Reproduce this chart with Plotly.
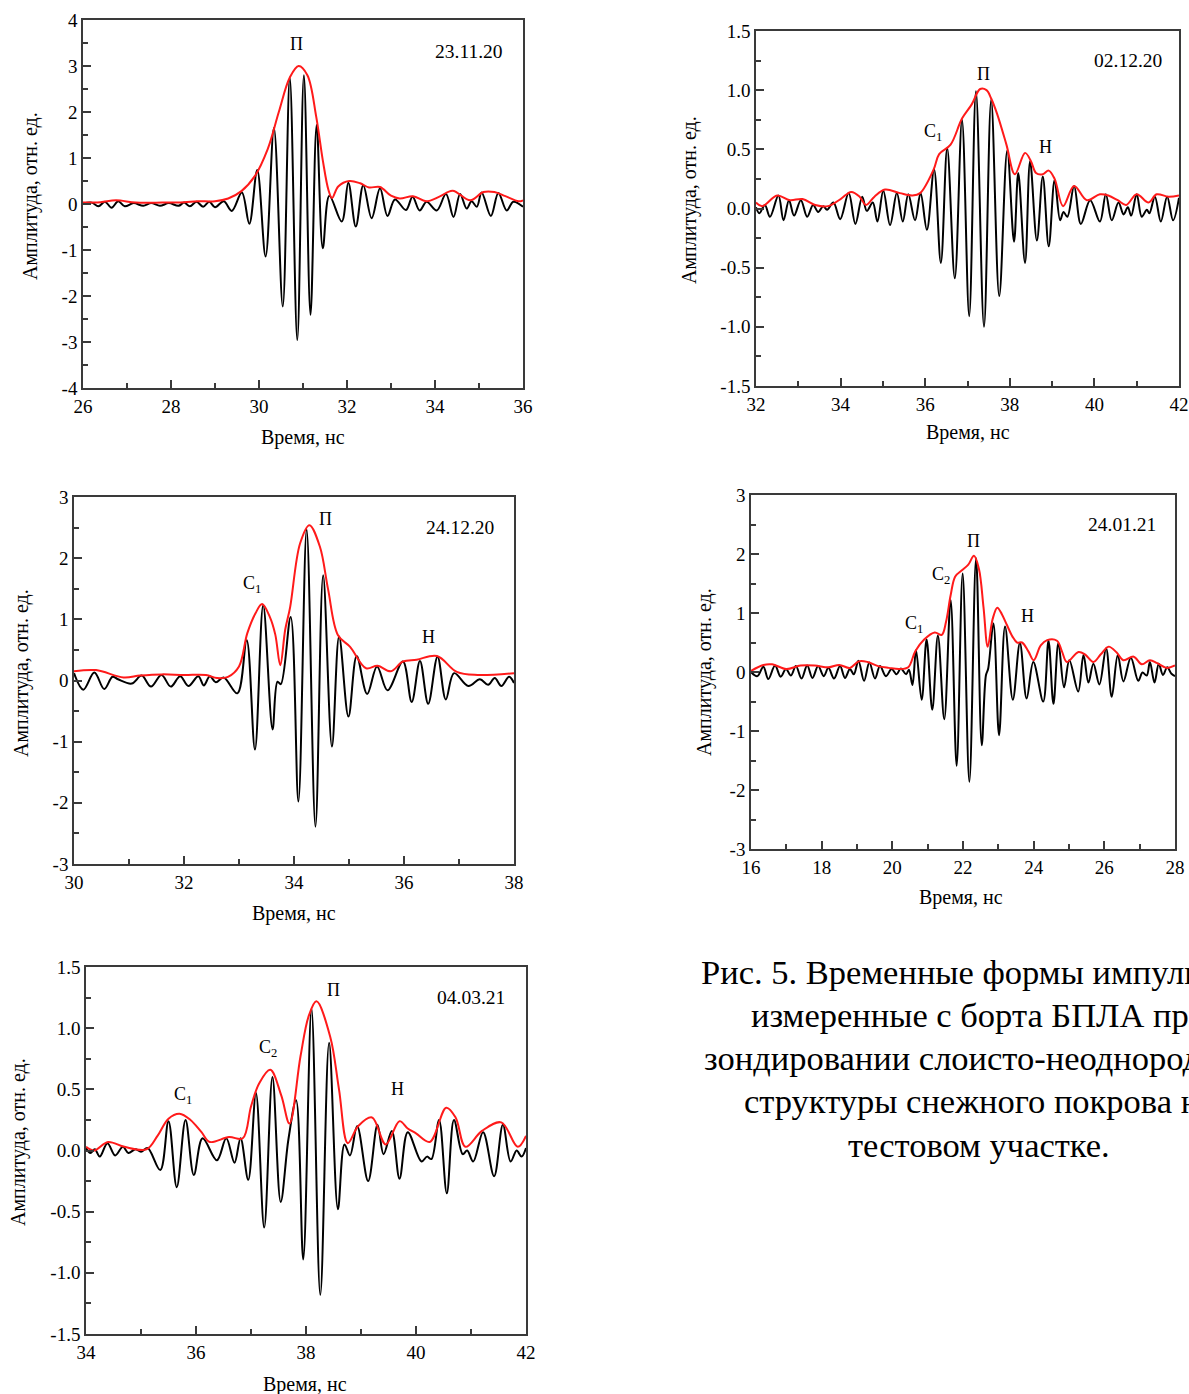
import plotly.graph_objects as go

W, H = 1189, 1394
FONT = "Liberation Serif"

# ---------------- Panel 1 : 23.11.20 ----------------
p1_sig_t = [26.00, 26.20, 26.35, 26.50, 26.65, 26.80, 26.95, 27.15, 27.37, 27.55, 27.75, 27.95,
            28.17, 28.30, 28.43, 28.58, 28.73, 28.87, 29.00, 29.20, 29.38, 29.61, 29.78, 29.96,
            30.15, 30.34, 30.54, 30.70, 30.87, 31.02, 31.17, 31.31, 31.45, 31.60, 31.88, 32.03,
            32.20, 32.37, 32.56, 32.75, 32.92, 33.09, 33.34, 33.49, 33.65, 33.81, 34.04, 34.25,
            34.42, 34.57, 34.72, 34.83, 34.95, 35.06, 35.27, 35.44, 35.63, 35.78, 36.00]
p1_sig_a = [0.01, 0.03, -0.05, 0.05, -0.08, 0.06, -0.05, 0.02, -0.04, 0.02, -0.04, 0.02,
            -0.04, 0.03, -0.05, 0.05, -0.06, 0.05, -0.07, 0.06, -0.15, 0.25, -0.43, 0.74,
            -1.14, 1.65, -2.23, 2.75, -2.96, 2.80, -2.41, 1.72, -0.96, 0.18, -0.38, 0.46,
            -0.49, 0.41, -0.31, 0.34, -0.26, 0.10, -0.13, 0.16, -0.14, 0.05, -0.14, 0.22,
            -0.28, 0.22, -0.10, 0.06, -0.06, 0.25, -0.26, 0.24, -0.14, 0.05, -0.06]
p1_env_t = [26.0, 26.4, 26.75, 27.2, 27.8, 28.3, 28.6, 29.0, 29.3, 29.6, 29.9, 30.2, 30.45, 30.7,
            30.9, 31.1, 31.3, 31.45, 31.58, 31.66, 31.8, 32.05, 32.3, 32.5, 32.75, 33.0, 33.2,
            33.5, 33.8, 34.1, 34.4, 34.8, 35.1, 35.35, 35.6, 35.9, 36.0]
p1_env_a = [0.03, 0.04, 0.08, 0.03, 0.03, 0.04, 0.06, 0.06, 0.12, 0.28, 0.6, 1.2, 2.0, 2.75,
            3.0, 2.8, 1.9, 0.95, 0.3, 0.13, 0.38, 0.5, 0.45, 0.36, 0.37, 0.18, 0.12,
            0.17, 0.06, 0.16, 0.29, 0.08, 0.26, 0.26, 0.17, 0.06, 0.08]

# ---------------- Panel 2 : 02.12.20 ----------------
p2_sig_t = [32.00, 32.08, 32.21, 32.33, 32.53, 32.65, 32.78, 32.90, 33.06, 33.21, 33.35, 33.47,
            33.59, 33.68, 33.83, 33.99, 34.19, 34.35, 34.51, 34.62, 34.76, 34.87, 35.01, 35.17,
            35.33, 35.47, 35.60, 35.76, 35.89, 36.04, 36.21, 36.37, 36.52, 36.70, 36.87, 37.04,
            37.20, 37.39, 37.56, 37.75, 37.94, 38.10, 38.20, 38.36, 38.48, 38.64, 38.78, 38.92,
            39.06, 39.19, 39.27, 39.36, 39.52, 39.68, 39.90, 40.13, 40.27, 40.41, 40.57, 40.69,
            40.79, 40.87, 41.00, 41.12, 41.24, 41.30, 41.43, 41.57, 41.72, 41.86, 42.00]
p2_sig_a = [0.01, -0.04, 0.03, -0.07, 0.11, -0.10, 0.07, -0.06, 0.07, -0.07, 0.03, -0.03,
            0.02, -0.01, 0.05, -0.09, 0.13, -0.13, 0.10, -0.02, 0.05, -0.11, 0.15, -0.14,
            0.13, -0.11, 0.12, -0.10, 0.13, -0.18, 0.33, -0.46, 0.51, -0.59, 0.75, -0.91,
            0.99, -1.00, 0.92, -0.74, 0.49, -0.28, 0.30, -0.46, 0.40, -0.27, 0.27, -0.32,
            0.24, -0.10, -0.03, -0.07, 0.19, -0.13, 0.07, -0.11, 0.12, -0.10, 0.05, -0.05,
            0.01, -0.06, 0.12, -0.07, -0.01, -0.04, 0.10, -0.11, 0.10, -0.10, 0.09]
p2_env_t = [32.0, 32.15, 32.5, 32.8, 33.1, 33.4, 33.7, 34.0, 34.25, 34.45, 34.6, 34.8, 35.05,
            35.4, 35.7, 35.88, 36.2, 36.33, 36.6, 36.87, 37.1, 37.3, 37.45, 37.56, 37.7, 37.92,
            38.12, 38.36, 38.5, 38.62, 38.78, 38.92, 39.06, 39.26, 39.52, 39.82, 40.13, 40.33,
            40.55, 40.75, 41.0, 41.28, 41.47, 41.75, 42.0]
p2_env_a = [0.05, 0.02, 0.11, 0.07, 0.08, 0.03, 0.02, 0.08, 0.14, 0.10, 0.03, 0.10, 0.16,
            0.13, 0.11, 0.13, 0.33, 0.46, 0.54, 0.76, 0.88, 1.01, 1.0, 0.93, 0.8, 0.54,
            0.29, 0.47, 0.40, 0.30, 0.29, 0.32, 0.25, 0.02, 0.19, 0.07, 0.12, 0.11,
            0.07, 0.03, 0.12, 0.05, 0.12, 0.10, 0.11]

# ---------------- Panel 3 : 24.12.20 ----------------
p3_sig_t = [30.00, 30.17, 30.37, 30.55, 30.70, 30.80, 31.05, 31.23, 31.40, 31.59, 31.76, 31.93,
            32.08, 32.26, 32.36, 32.47, 32.58, 32.72, 32.97, 33.14, 33.29, 33.44, 33.61, 33.70,
            33.76, 33.94, 34.08, 34.23, 34.39, 34.53, 34.69, 34.82, 34.99, 35.14, 35.33, 35.51,
            35.70, 35.98, 36.14, 36.29, 36.44, 36.61, 36.76, 36.91, 37.17, 37.38, 37.53, 37.65,
            37.77, 37.91, 38.00]
p3_sig_a = [0.12, -0.15, 0.13, -0.14, 0.06, 0.02, -0.05, 0.08, -0.10, 0.09, -0.10, 0.07,
            -0.09, 0.07, -0.08, 0.07, -0.03, 0.05, -0.21, 0.66, -1.13, 1.23, -0.80, -0.02,
            -0.06, 1.04, -1.98, 2.47, -2.39, 1.72, -1.08, 0.72, -0.59, 0.40, -0.22, 0.23,
            -0.16, 0.31, -0.35, 0.32, -0.38, 0.39, -0.31, 0.12, -0.09, 0.02, -0.07, 0.04,
            -0.09, 0.06, -0.04]
p3_env_t = [30.0, 30.4, 30.9, 31.2, 31.6, 32.0, 32.4, 32.6, 32.8, 33.0, 33.15, 33.3, 33.42,
            33.56, 33.66, 33.75, 33.84, 33.93, 34.11, 34.28, 34.47, 34.62, 34.80, 35.02, 35.31,
            35.52, 35.76, 35.98, 36.23, 36.60, 36.96, 37.34, 38.0]
p3_env_a = [0.15, 0.17, 0.05, 0.08, 0.10, 0.09, 0.09, 0.04, 0.06, 0.23, 0.77, 1.1, 1.25,
            1.04, 0.75, 0.25, 0.83, 1.2, 2.24, 2.54, 2.19, 1.49, 0.74, 0.55, 0.2,
            0.24, 0.15, 0.31, 0.34, 0.40, 0.14, 0.09, 0.12]

# ---------------- Panel 4 : 24.01.21 ----------------
p4_sig_t = [16.00, 16.18, 16.35, 16.49, 16.68, 16.84, 16.99, 17.13, 17.27, 17.43, 17.59, 17.74,
            17.90, 18.06, 18.19, 18.35, 18.52, 18.66, 18.80, 18.91, 19.04, 19.20, 19.35, 19.51,
            19.65, 19.82, 19.98, 20.12, 20.24, 20.39, 20.47, 20.57, 20.67, 20.83, 20.97, 21.13,
            21.29, 21.47, 21.65, 21.82, 21.99, 22.18, 22.37, 22.53, 22.65, 22.71, 22.86, 23.02,
            23.19, 23.41, 23.61, 23.80, 23.99, 24.27, 24.42, 24.56, 24.70, 24.86, 25.01, 25.26,
            25.41, 25.55, 25.69, 25.86, 26.05, 26.21, 26.38, 26.54, 26.75, 26.96, 27.08, 27.20,
            27.29, 27.42, 27.54, 27.66, 27.78, 27.90, 28.00]
p4_sig_a = [0.00, -0.07, 0.09, -0.12, 0.11, -0.08, 0.05, -0.06, 0.10, -0.11, 0.11, -0.10,
            0.10, -0.07, 0.07, -0.11, 0.10, -0.10, 0.05, -0.04, 0.19, -0.15, 0.16, -0.11,
            0.10, -0.07, 0.05, -0.04, 0.06, -0.04, 0.04, -0.22, 0.37, -0.47, 0.55, -0.64,
            0.62, -0.80, 1.22, -1.59, 1.67, -1.86, 1.93, -1.24, -0.05, 0.05, 0.82, -1.07,
            0.77, -0.47, 0.49, -0.45, 0.17, -0.50, 0.53, -0.54, 0.49, -0.26, 0.20, -0.33,
            0.29, -0.18, 0.14, -0.21, 0.40, -0.42, 0.29, -0.16, 0.24, -0.15, -0.01, -0.06,
            0.17, -0.18, 0.14, -0.05, 0.08, -0.03, -0.07]
p4_env_t = [16.0, 16.35, 16.6, 17.0, 17.4, 17.8, 18.2, 18.5, 18.8, 19.05, 19.3, 19.6, 19.9,
            20.2, 20.45, 20.65, 20.9, 21.2, 21.4, 21.52, 21.65, 21.78, 21.96, 22.15, 22.31,
            22.45, 22.58, 22.70, 22.84, 22.97, 23.1, 23.24, 23.4, 23.53, 23.67, 23.85, 24.0,
            24.2, 24.38, 24.66, 24.8, 24.94, 25.27, 25.45, 25.69, 25.9, 26.12, 26.35, 26.54,
            26.83, 27.06, 27.29, 27.5, 27.76, 28.0]
p4_env_a = [0.02, 0.12, 0.13, 0.05, 0.11, 0.11, 0.08, 0.12, 0.07, 0.18, 0.17, 0.10, 0.07,
            0.05, 0.08, 0.35, 0.55, 0.67, 0.63, 0.85, 1.30, 1.62, 1.72, 1.82, 1.97,
            1.75, 1.1, 0.43, 0.9, 1.09, 0.98, 0.8, 0.6, 0.5, 0.5, 0.35, 0.2,
            0.45, 0.54, 0.53, 0.35, 0.17, 0.34, 0.3, 0.17, 0.3, 0.43, 0.33, 0.20,
            0.26, 0.13, 0.2, 0.15, 0.07, 0.11]

# ---------------- Panel 5 : 04.03.21 ----------------
p5_sig_t = [34.00, 34.08, 34.16, 34.25, 34.39, 34.53, 34.67, 34.77, 34.90, 35.00, 35.12, 35.35,
            35.50, 35.65, 35.81, 35.96, 36.12, 36.38, 36.55, 36.70, 36.81, 36.95, 37.09, 37.24,
            37.39, 37.54, 37.68, 37.82, 37.95, 38.10, 38.26, 38.42, 38.58, 38.70, 38.80, 38.93,
            39.13, 39.30, 39.41, 39.56, 39.70, 39.85, 40.10, 40.20, 40.28, 40.42, 40.56, 40.69,
            40.85, 40.93, 41.04, 41.22, 41.42, 41.58, 41.72, 41.83, 41.92, 42.00]
p5_sig_a = [0.02, -0.02, 0.01, -0.05, 0.06, -0.04, 0.03, -0.02, 0.01, -0.01, 0.02, -0.16,
            0.24, -0.30, 0.25, -0.20, 0.10, -0.08, 0.10, -0.10, 0.10, -0.24, 0.47, -0.63,
            0.60, -0.42, 0.09, 0.41, -0.89, 1.16, -1.18, 0.88, -0.48, 0.05, -0.04, 0.20,
            -0.25, 0.21, -0.03, 0.16, -0.23, 0.15, -0.09, -0.05, -0.07, 0.25, -0.35, 0.25,
            -0.03, 0.00, -0.09, 0.15, -0.21, 0.21, -0.09, 0.00, -0.05, 0.02]
p5_env_t = [34.0, 34.15, 34.4, 34.7, 35.1, 35.3, 35.5, 35.7, 35.9, 36.1, 36.25, 36.6, 36.85,
            37.0, 37.15, 37.35, 37.55, 37.7, 37.9, 38.05, 38.19, 38.44, 38.6, 38.76, 38.95,
            39.2, 39.45, 39.7, 39.85, 40.0, 40.25, 40.55, 40.72, 40.9, 41.2, 41.55, 41.85, 42.0]
p5_env_a = [0.03, 0.0, 0.07, 0.03, 0.01, 0.12, 0.26, 0.30, 0.25, 0.15, 0.07, 0.11, 0.10,
            0.36, 0.55, 0.66, 0.45, 0.22, 0.77, 1.1, 1.22, 0.93, 0.5, 0.06, 0.2,
            0.27, 0.05, 0.24, 0.18, 0.14, 0.07, 0.35, 0.27, 0.03, 0.16, 0.23, 0.03, 0.12]

# ---------------- Tick labels ----------------
p1_xticks = [26, 28, 30, 32, 34, 36]
p1_yticks = [-4, -3, -2, -1, 0, 1, 2, 3, 4]
p1_ylabels = ["-4", "-3", "-2", "-1", "0", "1", "2", "3", "4"]
p2_xticks = [32, 34, 36, 38, 40, 42]
p2_yticks = [-1.5, -1.0, -0.5, 0.0, 0.5, 1.0, 1.5]
p2_ylabels = ["-1.5", "-1.0", "-0.5", "0.0", "0.5", "1.0", "1.5"]
p3_xticks = [30, 32, 34, 36, 38]
p3_yticks = [-3, -2, -1, 0, 1, 2, 3]
p3_ylabels = ["-3", "-2", "-1", "0", "1", "2", "3"]
p4_xticks = [16, 18, 20, 22, 24, 26, 28]
p4_yticks = [-3, -2, -1, 0, 1, 2, 3]
p4_ylabels = ["-3", "-2", "-1", "0", "1", "2", "3"]
p5_xticks = [34, 36, 38, 40, 42]
p5_yticks = [-1.5, -1.0, -0.5, 0.0, 0.5, 1.0, 1.5]
p5_ylabels = ["-1.5", "-1.0", "-0.5", "0.0", "0.5", "1.0", "1.5"]

dates = ["23.11.20", "02.12.20", "24.12.20", "24.01.21", "04.03.21"]
x_title = "Время, нс"
y_title = "Амплитуда, отн. ед."
caption_lines = ["Рис. 5. Временные формы импульсов,",
                 "измеренные с борта БПЛА при",
                 "зондировании слоисто-неоднородной",
                 "структуры снежного покрова на",
                 "тестовом участке."]

# ---------------- Layout geometry (pixels) ----------------
panels = [
    dict(sig=(p1_sig_t, p1_sig_a), env=(p1_env_t, p1_env_a), px=(83, 523), py=(20, 388),
         xr=(26, 36), yr=(-4, 4), xt=p1_xticks, yt=p1_yticks, yl=p1_ylabels, xm=1, ym=0.5,
         ytitle=(30, 196), xtitle=(303, 437), date=(469, 51),
         labels=[("П", 296, 44)]),
    dict(sig=(p2_sig_t, p2_sig_a), env=(p2_env_t, p2_env_a), px=(756, 1179), py=(31, 386),
         xr=(32, 42), yr=(-1.5, 1.5), xt=p2_xticks, yt=p2_yticks, yl=p2_ylabels, xm=1, ym=0.25,
         ytitle=(690, 200), xtitle=(968, 433), date=(1128, 60),
         labels=[("С<sub>1</sub>", 933, 132), ("П", 983, 74), ("Н", 1045, 147)]),
    dict(sig=(p3_sig_t, p3_sig_a), env=(p3_env_t, p3_env_a), px=(74, 514), py=(497, 864),
         xr=(30, 38), yr=(-3, 3), xt=p3_xticks, yt=p3_yticks, yl=p3_ylabels, xm=1, ym=0.5,
         ytitle=(21, 673), xtitle=(294, 913), date=(460, 527),
         labels=[("С<sub>1</sub>", 252, 584), ("П", 325, 519), ("Н", 428, 637)]),
    dict(sig=(p4_sig_t, p4_sig_a), env=(p4_env_t, p4_env_a), px=(751, 1175), py=(495, 849),
         xr=(16, 28), yr=(-3, 3), xt=p4_xticks, yt=p4_yticks, yl=p4_ylabels, xm=1, ym=0.5,
         ytitle=(704, 672), xtitle=(961, 897), date=(1122, 524),
         labels=[("С<sub>1</sub>", 914, 624), ("С<sub>2</sub>", 941, 575), ("П", 973, 541),
                 ("Н", 1027, 616)]),
    dict(sig=(p5_sig_t, p5_sig_a), env=(p5_env_t, p5_env_a), px=(86, 526), py=(967, 1334),
         xr=(34, 42), yr=(-1.5, 1.5), xt=p5_xticks, yt=p5_yticks, yl=p5_ylabels, xm=1, ym=0.25,
         ytitle=(18, 1142), xtitle=(305, 1384), date=(471, 997),
         labels=[("С<sub>1</sub>", 183, 1095), ("С<sub>2</sub>", 268, 1048), ("П", 333, 990),
                 ("Н", 398, 1089)]),
]

AX_COLOR = "#3a3a3a"


def frange(a, b, step):
    vals = []
    v = a
    while v <= b + 1e-9:
        vals.append(round(v, 6))
        v += step
    return vals


fig = go.Figure()
layout = dict(width=W, height=H, margin=dict(l=0, r=0, t=0, b=0, autoexpand=False),
              paper_bgcolor="white", plot_bgcolor="white", showlegend=False,
              font=dict(family=FONT, color="black"))
annotations = []


def pxX(x):
    return x / W


def pxY(y):
    return 1 - y / H


for i, p in enumerate(panels, start=1):
    xa = "x" if i == 1 else f"x{i}"
    ya = "y" if i == 1 else f"y{i}"
    fig.add_trace(go.Scatter(x=p["sig"][0], y=p["sig"][1], mode="lines",
                             line=dict(color="black", width=2, shape="spline", smoothing=1.0),
                             xaxis=xa, yaxis=ya, hoverinfo="skip"))
    fig.add_trace(go.Scatter(x=p["env"][0], y=p["env"][1], mode="lines",
                             line=dict(color="#ff1a1a", width=2, shape="spline", smoothing=1.0),
                             xaxis=xa, yaxis=ya, hoverinfo="skip"))
    common = dict(ticks="inside", ticklen=8, tickwidth=1.5, tickcolor=AX_COLOR,
                  showline=True, linecolor=AX_COLOR, linewidth=1.5, mirror=True,
                  showgrid=False, zeroline=False, automargin=False,
                  tickfont=dict(family=FONT, size=19, color="black"))
    xminor = [v for v in frange(p["xr"][0], p["xr"][1], p["xm"]) if v not in p["xt"]]
    yminor = [v for v in frange(p["yr"][0], p["yr"][1], p["ym"]) if v not in p["yt"]]
    layout["xaxis" if i == 1 else f"xaxis{i}"] = dict(
        domain=[pxX(p["px"][0]), pxX(p["px"][1])], range=list(p["xr"]),
        tickmode="array", tickvals=p["xt"], ticktext=[str(v) for v in p["xt"]],
        anchor=ya,
        minor=dict(tickmode="array", tickvals=xminor, ticks="inside", ticklen=5,
                   tickwidth=1.5, tickcolor=AX_COLOR, showgrid=False),
        **common)
    layout["yaxis" if i == 1 else f"yaxis{i}"] = dict(
        domain=[pxY(p["py"][1]), pxY(p["py"][0])], range=list(p["yr"]),
        tickmode="array", tickvals=p["yt"], ticktext=p["yl"],
        anchor=xa,
        minor=dict(tickmode="array", tickvals=yminor, ticks="inside", ticklen=5,
                   tickwidth=1.5, tickcolor=AX_COLOR, showgrid=False),
        **common)
    annotations.append(dict(text=y_title, x=pxX(p["ytitle"][0]), y=pxY(p["ytitle"][1]),
                            xref="paper", yref="paper", textangle=-90, showarrow=False,
                            xanchor="center", yanchor="middle",
                            font=dict(family=FONT, size=20, color="black")))
    annotations.append(dict(text=x_title, x=pxX(p["xtitle"][0]), y=pxY(p["xtitle"][1]),
                            xref="paper", yref="paper", showarrow=False,
                            xanchor="center", yanchor="middle",
                            font=dict(family=FONT, size=20, color="black")))
    annotations.append(dict(text=dates[i - 1], x=pxX(p["date"][0]), y=pxY(p["date"][1]),
                            xref="paper", yref="paper", showarrow=False,
                            xanchor="center", yanchor="middle",
                            font=dict(family=FONT, size=19.5, color="black")))
    for (txt, lx, ly) in p["labels"]:
        annotations.append(dict(text=txt, x=pxX(lx), y=pxY(ly), xref="paper", yref="paper",
                                showarrow=False, xanchor="center", yanchor="middle",
                                font=dict(family=FONT, size=18, color="black")))

cap_y = [972, 1015, 1058, 1101, 1145]
for line, cy in zip(caption_lines, cap_y):
    annotations.append(dict(text=line, x=pxX(979), y=pxY(cy), xref="paper", yref="paper",
                            showarrow=False, xanchor="center", yanchor="middle",
                            font=dict(family=FONT, size=34.5, color="black")))

layout["annotations"] = annotations
fig.update_layout(**layout)
fig.write_html("out.html", config={"displayModeBar": False},
               post_script="document.body.style.margin='0';"
                           "document.body.style.overflow='hidden';")
